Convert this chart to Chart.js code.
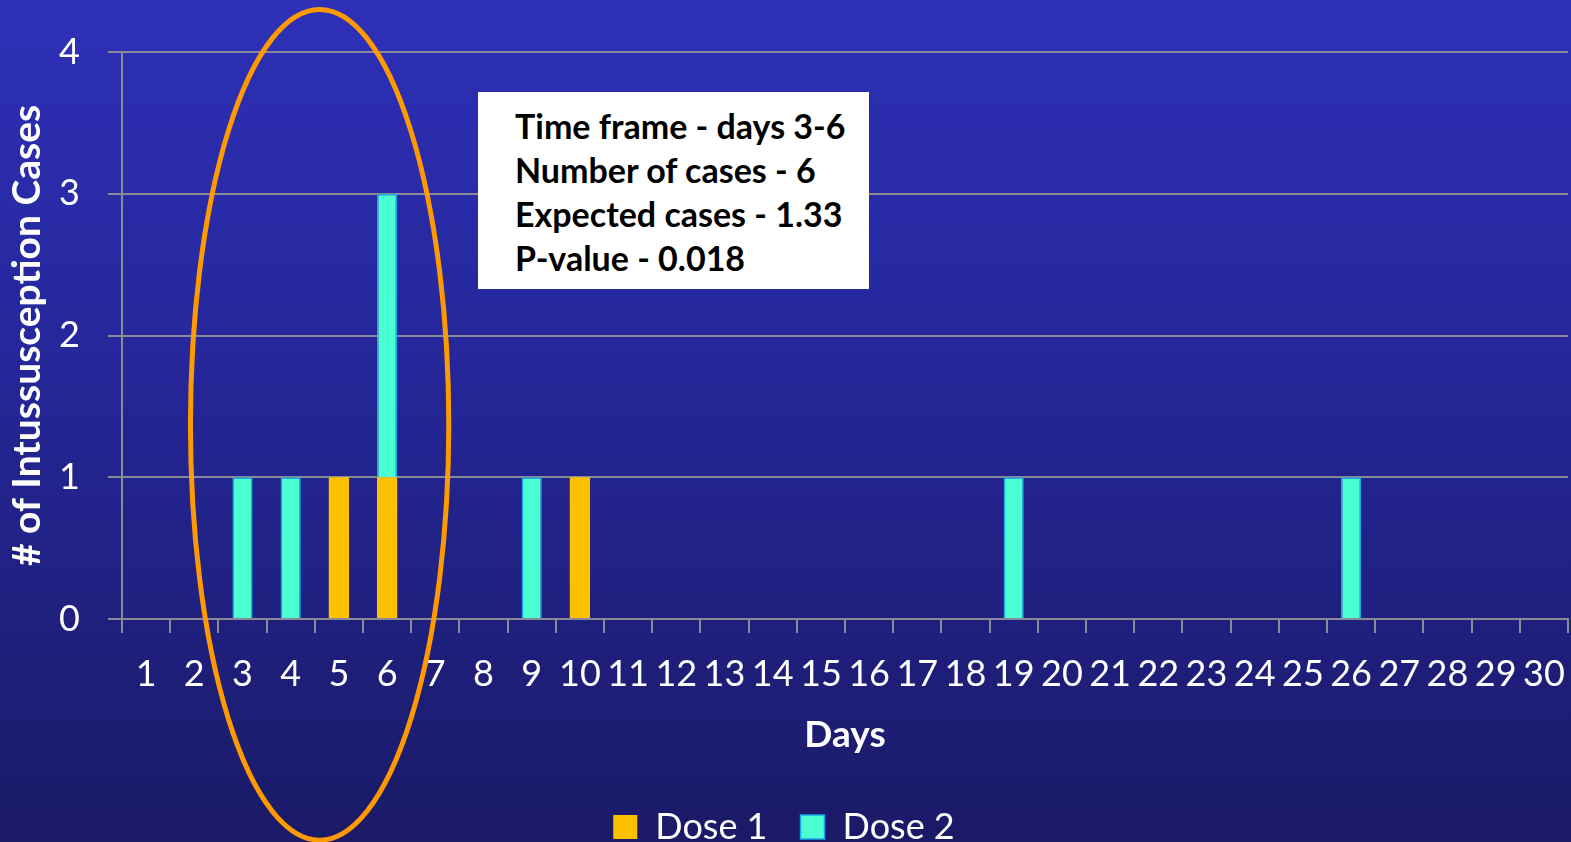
<!DOCTYPE html>
<html>
<head>
<meta charset="utf-8">
<script src="https://cdn.jsdelivr.net/npm/chart.js@4"></script>
<style>
  html, body { margin: 0; padding: 0; }
  body {
    width: 1571px; height: 842px; overflow: hidden; position: relative;
    background: linear-gradient(to bottom, #2e30b8 0%, #25279a 42%, #1a1a67 100%);
    font-family: Lato, "Open Sans", sans-serif;
  }
  #wrap { position: absolute; left: 0; top: 0; width: 1571px; height: 842px; }
  #note {
    position: absolute; left: 478px; top: 92px; width: 354px; height: 185px;
    background: #fff; color: #000; font-weight: bold; font-size: 34px;
    line-height: 44px; padding: 12px 0 0 37px; box-sizing: content-box;
  }
</style>
</head>
<body>
<div id="wrap"><canvas id="chart" width="1571" height="842"></canvas></div>
<div id="note">
  <div>Time frame - days 3-6</div>
  <div>Number of cases - 6</div>
  <div>Expected cases - 1.33</div>
  <div>P-value - 0.018</div>
</div>
<script>
// days since vaccination
const days = ['1','2','3','4','5','6','7','8','9','10','11','12','13','14','15',
  '16','17','18','19','20','21','22','23','24','25','26','27','28','29','30'];
const dose1 = [null,null,null,null,1,1,null,null,null,1,null,null,null,null,null,
  null,null,null,null,null,null,null,null,null,null,null,null,null,null,null];
const dose2 = [null,null,1,1,null,2,null,null,1,null,null,null,null,null,null,
  null,null,null,1,null,null,null,null,null,null,1,null,null,null,null];
const yTicks = [0, 1, 2, 3, 4];

const gridGrey = '#8a8a96';

// orange ring around the days 3-6 cluster
const ringPlugin = {
  id: 'ring',
  afterDraw(chart) {
    const x = chart.scales.x, y = chart.scales.y;
    const cx = x.getPixelForValue(3.6);
    const rx = x.getPixelForValue(3.6 + 2.68) - cx;
    const cy = y.getPixelForValue(1.37);
    const ry = cy - y.getPixelForValue(1.37 + 2.93);
    const ctx = chart.ctx;
    ctx.save();
    ctx.strokeStyle = '#ff9900';
    ctx.lineWidth = 5;
    ctx.beginPath();
    ctx.ellipse(cx, cy, rx, ry, 0, 0, Math.PI * 2);
    ctx.stroke();
    ctx.restore();
  }
};

new Chart(document.getElementById('chart'), {
  type: 'bar',
  data: {
    labels: days,
    datasets: [
      { label: 'Dose 1', data: dose1, backgroundColor: '#ffc000', borderWidth: 0 },
      { label: 'Dose 2', data: dose2, backgroundColor: '#4bffd3', borderColor: '#1aa8e6', borderWidth: 1.5 }
    ]
  },
  options: {
    responsive: false,
    animation: false,
    events: [],
    // legend item spacing is wide, so let the legend box hang a bit past the bottom
    layout: { autoPadding: false, padding: { top: 52, right: 3, left: 0, bottom: -13 } },
    datasets: { bar: { categoryPercentage: 1, barPercentage: 0.42 } },
    plugins: {
      tooltip: { enabled: false },
      legend: {
        position: 'bottom',
        labels: {
          color: '#fff', font: { family: 'Lato', size: 36 },
          boxWidth: 24, boxHeight: 24, padding: 33, useBorderRadius: false
        }
      }
    },
    scales: {
      x: {
        stacked: true,
        afterFit(scale) { scale.height = 157; scale.paddingLeft = 0; scale.paddingRight = 0; },
        grid: { drawOnChartArea: false, drawTicks: true, tickLength: 14, color: gridGrey, lineWidth: 2 },
        border: { color: gridGrey, width: 2 },
        ticks: { color: '#fff', font: { family: 'Lato', size: 36 }, padding: 20, autoSkip: false, maxRotation: 0 },
        title: { display: true, text: 'Days', color: '#fff', font: { family: 'Lato', size: 37, weight: 'bold' }, padding: { top: 19, bottom: 19 } }
      },
      y: {
        stacked: true,
        min: 0, max: 4,
        afterBuildTicks(scale) { scale.ticks = yTicks.map(v => ({ value: v })); },
        afterFit(scale) { scale.width = 122; scale.paddingTop = 0; scale.paddingBottom = 0; },
        grid: { color: gridGrey, lineWidth: 2, tickLength: 14 },
        border: { color: gridGrey, width: 2 },
        ticks: { color: '#fff', font: { family: 'Lato', size: 36 }, padding: 28 },
        title: { display: true, text: '# of Intussusception Cases', color: '#fff', font: { family: 'Lato', size: 39, weight: 'bold' }, padding: { top: 4, bottom: 0 } }
      }
    }
  },
  plugins: [ringPlugin]
});
</script>
</body>
</html>
